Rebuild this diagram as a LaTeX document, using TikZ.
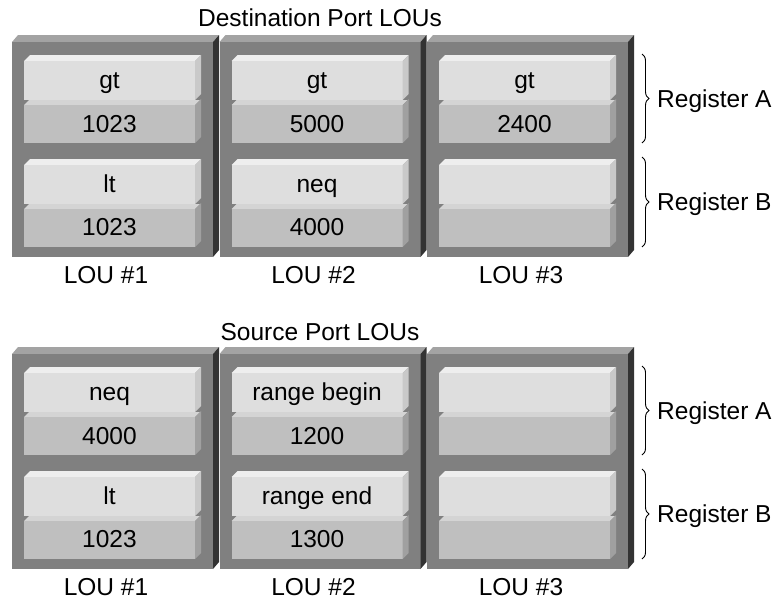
\documentclass[tikz,border=0pt]{standalone}
\usepackage{fontspec}
\setmainfont{Liberation Sans}
\usetikzlibrary{decorations.pathreplacing}

\definecolor{boxtop}{HTML}{A3A3A3}
\definecolor{boxfront}{HTML}{808080}
\definecolor{boxside}{HTML}{333333}
\definecolor{hitop}{HTML}{EEEEEE}
\definecolor{hifront}{HTML}{DEDEDE}
\definecolor{hiside}{HTML}{C9C9C9}
\definecolor{lotop}{HTML}{D4D4D4}
\definecolor{lofront}{HTML}{BFBFBF}
\definecolor{loside}{HTML}{A0A0A0}

\tikzset{
  lbl/.style={font=\fontsize{24.5}{28}\selectfont, inner sep=0pt, text height=17.5pt, text depth=0pt},
  regbrace/.style={decorate, decoration={brace, amplitude=7pt}, line width=0.9pt},
}

% one register: light slab over dark slab, #1 = box left, #2 = top of light front
\newcommand{\regslab}[2]{
  \fill[hitop] (#1+12,#2) -- (#1+18,#2-6) -- (#1+189,#2-6) -- (#1+183,#2) -- cycle;
  \fill[hifront] (#1+12,#2) rectangle (#1+183,#2+39);
  \fill[hiside] (#1+183,#2) -- (#1+189,#2-6) -- (#1+189,#2+33) -- (#1+183,#2+39) -- cycle;
  \fill[lotop] (#1+12,#2+44) -- (#1+17,#2+39) -- (#1+188,#2+39) -- (#1+183,#2+44) -- cycle;
  \fill[lofront] (#1+12,#2+44) rectangle (#1+183,#2+82);
  \fill[loside] (#1+183,#2+44) -- (#1+189,#2+38) -- (#1+189,#2+76) -- (#1+183,#2+82) -- cycle;
}

% one LOU block, #1 = left, #2 = panel offset
\newcommand{\loublock}[2]{
  \fill[boxtop] (#1,#2+42) -- (#1+6,#2+35) -- (#1+207,#2+35) -- (#1+201,#2+42) -- cycle;
  \fill[boxfront] (#1,#2+42) rectangle (#1+201,#2+257);
  \fill[boxside] (#1+201,#2+42) -- (#1+207,#2+35) -- (#1+207,#2+250) -- (#1+201,#2+257) -- cycle;
  \regslab{#1}{#2+61}
  \regslab{#1}{#2+165}
}

\begin{document}
\begin{tikzpicture}[x=1pt,y=-1pt]
    \useasboundingbox (0,0) rectangle (777,600);

    % blocks
    \foreach \py in {0,312} {
        \foreach \i in {0,1,2} {
            \pgfmathsetmacro\L{12+207.5*\i}
            \loublock{\L}{\py}
            \node[lbl] (lou\py-\i) at (\L+94,\py+275) {LOU \#\the\numexpr\i+1\relax};
        }
    }

    % titles
    \node[lbl] (dsttitle) at (320,18) {Destination Port LOUs};
    \node[lbl] (srctitle) at (320,332) {Source Port LOUs};

    % register contents
    \foreach \py/\i/\aa/\ab/\ba/\bb in {0/0/gt/1023/lt/1023, 0/1/gt/5000/neq/4000, 0/2/gt/2400//,
        312/0/neq/4000/lt/1023, 312/1/range begin/1200/range end/1300, 312/2///} {
        \pgfmathsetmacro\L{12+207.5*\i}
        \node[lbl] (ra\py-\i) at (\L+97.5,\py+80) {\aa};
        \node[lbl] (rav\py-\i) at (\L+97.5,\py+123.5) {\ab};
        \node[lbl] (rb\py-\i) at (\L+97.5,\py+184) {\ba};
        \node[lbl] (rbv\py-\i) at (\L+97.5,\py+227) {\bb};
    }

    % braces
    \foreach \py in {0,312} {
        \coordinate (at\py) at (642,\py+54);
        \coordinate (ab\py) at (642,\py+143);
        \coordinate (bt\py) at (642,\py+157);
        \coordinate (bb\py) at (642,\py+247);
        \draw[regbrace] (at\py) -- (ab\py);
        \draw[regbrace] (bt\py) -- (bb\py);
        \node[lbl, anchor=west] (rega\py) at (657,\py+98.5) {Register A};
        \node[lbl, anchor=west] (regb\py) at (657,\py+202) {Register B};
    }
\end{tikzpicture}
\end{document}
